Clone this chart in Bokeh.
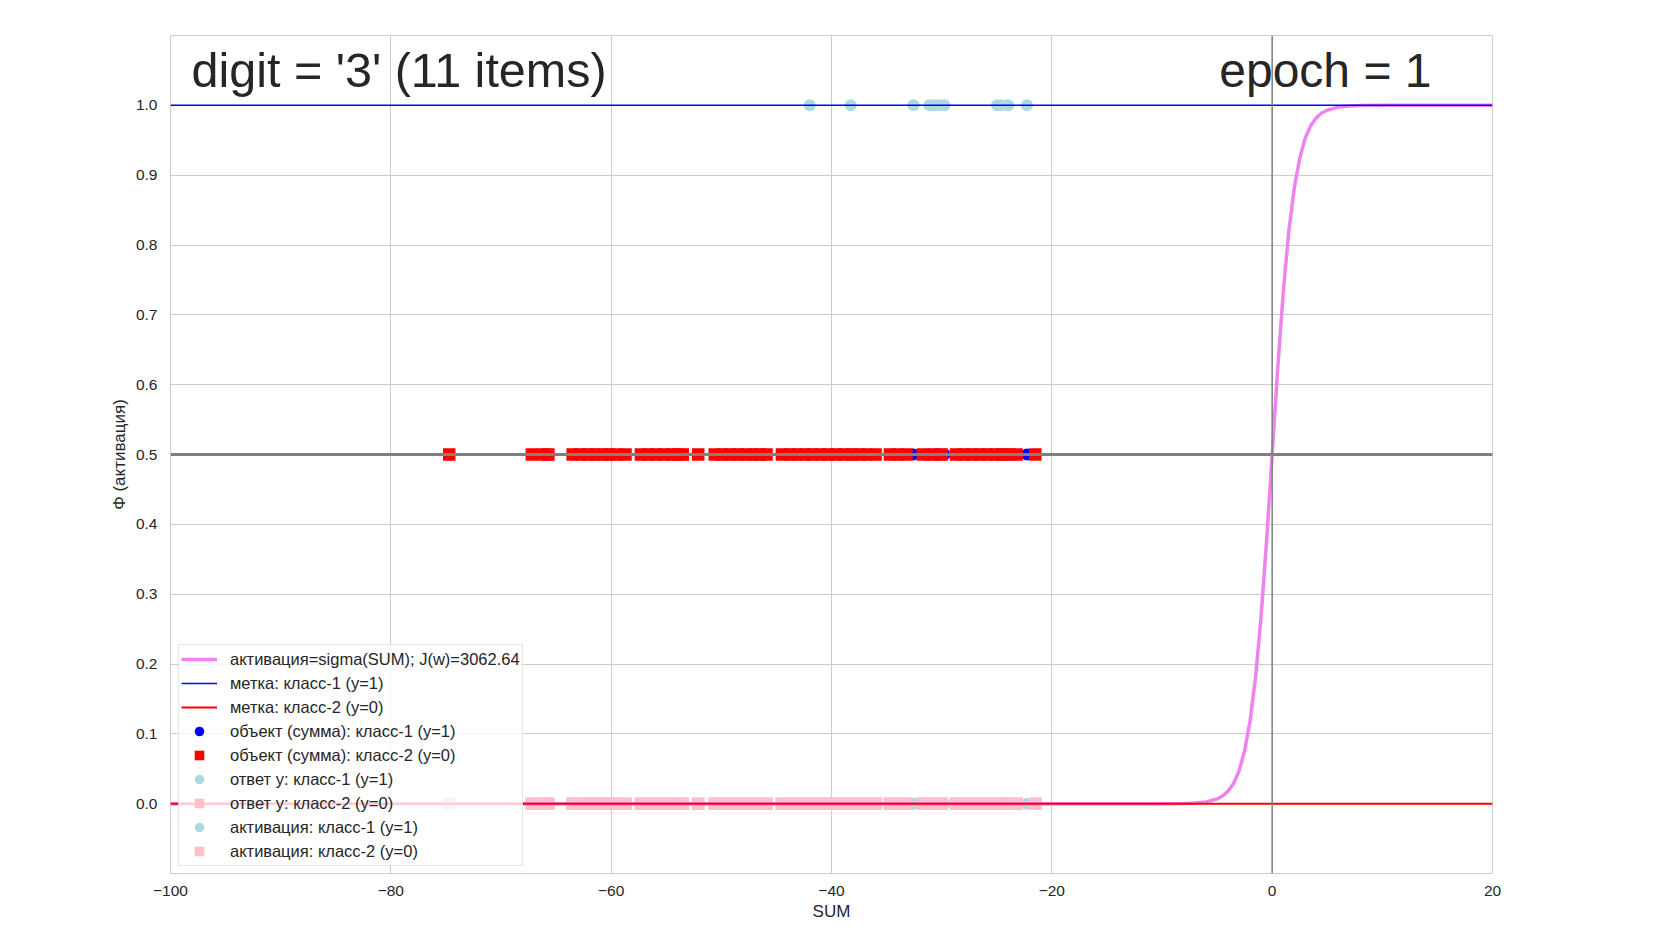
from bokeh.plotting import figure
from bokeh.models import Range1d, FixedTicker, Span, Legend, LegendItem, CustomJSTickFormatter
from bokeh.core.properties import value
from bokeh.embed import file_html
from bokeh.resources import INLINE

# ---- data ----
class1_sum = [-41.97, -38.25, -32.56, -31.11, -30.65, -30.20, -29.75, -24.98, -24.57, -23.96, -22.26]
class2_sum = [-74.7, -67.2, -66.1, -65.7,
              -63.5, -62.8, -62.1, -61.5, -60.8, -60.2, -59.5, -58.7,
              -57.3, -56.6, -55.9, -55.2, -54.5, -53.9, -53.5,
              -52.1,
              -50.6, -49.9, -49.2, -48.5, -47.8, -47.1, -46.5, -45.9,
              -44.5, -43.8, -43.1, -42.4, -41.7, -41.0, -40.3, -39.6, -38.9, -38.2, -37.5, -36.8, -36.0,
              -34.7, -34.0, -33.2,
              -31.7, -30.8, -30.0,
              -28.7, -28.0, -27.3, -26.6, -25.9, -25.2, -24.5, -23.9, -23.2,
              -21.5]
object_level = 0.5
class1_answer = [1.0] * len(class1_sum)
class2_answer = [0.0] * len(class2_sum)
class1_activation = [0.0] * len(class1_sum)
class2_activation = [0.0] * len(class2_sum)

curve_x = [-100, -10, -8, -7, -6, -5, -4.5, -4, -3.5, -3, -2.5, -2, -1.5, -1, -0.5, 0,
           0.5, 1, 1.5, 2, 2.5, 3, 3.5, 4, 4.5, 5, 6, 7, 8, 10, 20]
curve_y = [0.0, 0.00005, 0.00034, 0.0009, 0.0025, 0.0067, 0.011, 0.018, 0.029, 0.047, 0.076,
           0.119, 0.182, 0.269, 0.378, 0.5, 0.622, 0.731, 0.818, 0.881, 0.924, 0.953, 0.971,
           0.982, 0.989, 0.993, 0.9975, 0.9991, 0.9997, 0.99995, 1.0]
label_line_x = [-100, 20]
label1_y = [1.0, 1.0]
label2_y = [0.0, 0.0]

x_ticks = [-100, -80, -60, -40, -20, 0, 20]
y_ticks = [0.0, 0.1, 0.2, 0.3, 0.4, 0.5, 0.6, 0.7, 0.8, 0.9, 1.0]

title_left = "digit = '3' (11 items)"
title_right = "epoch = 1"
legend_labels = [
    "активация=sigma(SUM); J(w)=3062.64",
    "метка: класс-1 (y=1)",
    "метка: класс-2 (y=0)",
    "объект (сумма): класс-1 (y=1)",
    "объект (сумма): класс-2 (y=0)",
    "ответ y: класс-1 (y=1)",
    "ответ y: класс-2 (y=0)",
    "активация: класс-1 (y=1)",
    "активация: класс-2 (y=0)",
]

FONT = "Liberation Sans"
TXT = "#262626"
GRID = "#cccccc"

p = figure(frame_width=1322, frame_height=838,
           min_border_left=170, min_border_top=35, min_border_right=146, min_border_bottom=39,
           x_range=Range1d(-100, 20), y_range=Range1d(-0.1, 1.1),
           output_backend="svg", toolbar_location=None)
p.background_fill_color = "white"
p.border_fill_color = "white"
p.outline_line_color = GRID
p.outline_line_width = 1

p.xaxis.ticker = FixedTicker(ticks=x_ticks)
p.yaxis.ticker = FixedTicker(ticks=y_ticks)
p.yaxis.formatter = CustomJSTickFormatter(code="return tick.toFixed(1);")
for ax in (p.xaxis[0], p.yaxis[0]):
    ax.axis_line_color = None
    ax.major_tick_line_color = None
    ax.minor_tick_line_color = None
    ax.major_label_text_font = FONT
    ax.major_label_text_font_size = "15.5px"
    ax.major_label_text_color = TXT
    ax.axis_label_text_font = FONT
    ax.axis_label_text_font_size = "17px"
    ax.axis_label_text_color = TXT
    ax.axis_label_text_font_style = "normal"
p.xaxis.major_label_standoff = 6
p.yaxis.major_label_standoff = 7
p.xaxis.axis_label = "SUM"
p.yaxis.axis_label = "Φ (активация)"
p.xaxis.axis_label_standoff = 3
p.yaxis.axis_label_standoff = 4

p.xgrid.grid_line_color = GRID
p.ygrid.grid_line_color = GRID
p.xgrid.grid_line_width = 1
p.ygrid.grid_line_width = 1

# scatter (below lines)
r_obj1 = p.scatter(class1_sum, [object_level] * len(class1_sum), marker="circle", size=12,
                   fill_color="blue", line_color=None)
r_obj2 = p.scatter(class2_sum, [object_level] * len(class2_sum), marker="square", size=12.5,
                   fill_color="red", line_color=None)
r_ans1 = p.scatter(class1_sum, class1_answer, marker="circle", size=12,
                   fill_color="lightblue", line_color=None)
r_ans2 = p.scatter(class2_sum, class2_answer, marker="square", size=12.5,
                   fill_color="pink", line_color=None)
r_act1 = p.scatter(class1_sum, class1_activation, marker="circle", size=12,
                   fill_color="lightblue", line_color=None)
r_act2 = p.scatter(class2_sum, class2_activation, marker="square", size=12.5,
                   fill_color="pink", line_color=None)

# lines
r_curve = p.line(curve_x, curve_y, line_color="violet", line_width=3.5)
r_lab1 = p.line(label_line_x, label1_y, line_color="blue", line_width=1.5)
r_lab2 = p.line(label_line_x, label2_y, line_color="red", line_width=2)

p.add_layout(Span(location=0.5, dimension="width", line_color="gray", line_width=3))
p.add_layout(Span(location=0, dimension="height", line_color="gray", line_width=1.5))

# titles inside the plot
p.text(x=[-98.1], y=[1.050], text=[title_left], text_font=value(FONT), text_font_size="48.5px",
       text_color=TXT, text_baseline="alphabetic", text_align="left")
p.text(x=[-4.8], y=[1.050], text=[title_right], text_font=value(FONT), text_font_size="48px",
       text_color=TXT, text_baseline="alphabetic", text_align="left")

rends = [r_curve, r_lab1, r_lab2, r_obj1, r_obj2, r_ans1, r_ans2, r_act1, r_act2]
legend = Legend(items=[LegendItem(label=l, renderers=[r]) for l, r in zip(legend_labels, rends)],
                location=(8, 7), orientation="vertical")
legend.label_text_font = FONT
legend.label_text_font_size = "16.5px"
legend.label_text_color = TXT
legend.glyph_width = 36
legend.glyph_height = 24
legend.label_height = 24
legend.spacing = 0
legend.padding = 2
legend.margin = 0
legend.label_standoff = 13
legend.border_line_color = GRID
legend.border_line_width = 1
legend.background_fill_color = "white"
legend.background_fill_alpha = 0.8
p.add_layout(legend, "center")

open("out.html", "w").write(file_html(p, INLINE))
